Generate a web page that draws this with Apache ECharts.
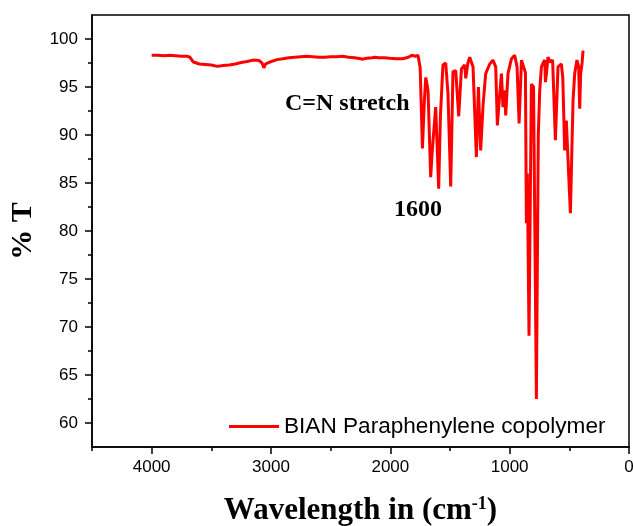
<!DOCTYPE html>
<html><head><meta charset="utf-8">
<script src="https://cdn.jsdelivr.net/npm/echarts@6/dist/echarts.min.js"></script>
<style>html,body{margin:0;padding:0;background:#fff}#c{width:633px;height:526px}</style>
</head><body><div id="c"></div>
<script>
const seriesName = 'BIAN Paraphenylene copolymer';
const wavenumbers = [4000,3950,3900,3850,3800,3750,3700,3680,3650,3600,3550,3500,3450,3400,3350,3300,3250,3200,3150,3100,3075,3060,3045,3010,2950,2900,2850,2800,2750,2700,2650,2600,2550,2500,2450,2400,2350,2300,2250,2230,2200,2150,2130,2100,2050,2005,1950,1900,1880,1850,1820,1810,1790,1768,1750,1731,1715,1703,1684,1662,1648,1637,1620,1608,1595,1580,1559,1536,1517,1494,1475,1452,1427,1404,1377,1368,1350,1335,1307,1279,1262,1243,1223,1201,1167,1140,1117,1103,1083,1069,1056,1042,1033,1014,985,958,938,921,901,888,868,860,852,838,818,800,776,760,748,734,720,706,700,692,679,660,640,617,595,580,567,555,539,525,511,491,469,455,436,422,413,405,394,385];
const transmittance = [98.3,98.3,98.25,98.3,98.25,98.2,98.2,98.1,97.6,97.4,97.35,97.3,97.15,97.25,97.3,97.4,97.55,97.65,97.8,97.75,97.5,97.0,97.4,97.6,97.85,97.95,98.05,98.1,98.15,98.2,98.15,98.1,98.1,98.15,98.15,98.2,98.1,98.05,97.95,97.9,98.0,98.05,98.1,98.05,98.05,98.0,97.95,97.95,98.0,98.1,98.3,98.35,98.2,98.3,97.0,88.6,93.5,96.0,94.6,85.6,88.5,90.2,92.9,89.0,84.4,92.0,97.3,97.5,94.3,84.65,96.6,96.7,91.95,96.9,97.3,95.9,97.5,98.1,97.1,87.7,95.0,88.4,93.1,96.4,97.4,97.8,97.1,91.0,94.3,96.4,92.9,94.65,92.05,96.4,97.95,98.3,97.1,91.2,97.8,97.95,96.5,80.8,86.0,69.1,95.3,95.0,62.5,90.0,94.65,97.1,97.5,97.8,95.5,96.4,98.1,97.6,97.8,89.45,97.1,97.0,97.4,96.0,88.4,91.5,87.4,81.85,93.6,96.4,97.8,97.1,92.75,96.4,97.4,98.8];
const xTickValues = [0,1000,2000,3000,4000];
const xMinorTickValues = [500,1500,2500,3500,4500];
const yTickValues = [60,65,70,75,80,85,90,95,100];
const yMinorTickValues = [62.5,67.5,72.5,77.5,82.5,87.5,92.5,97.5];
const xTitle = 'Wavelength in (cm';
const xTitleSup = '-1';
const yTitle = '% T';
const noteStretch = 'C=N stretch';
const notePeak = '1600';

const sans = '"Liberation Sans", Arial, sans-serif';
const serif = '"Liberation Serif", "Times New Roman", serif';
const X_MIN = 0, X_MAX = 4500, Y_MIN = 57.5, Y_MAX = 102.5;

const data = wavenumbers.map((w, i) => [w, transmittance[i]]);

const baseX = {type:'value', min:X_MIN, max:X_MAX, inverse:true, position:'bottom', splitLine:{show:false}};
const baseY = {type:'value', min:Y_MIN, max:Y_MAX, position:'left', splitLine:{show:false}};
const plain = v => String(v);

const chart = echarts.init(document.getElementById('c'), null, {renderer:'canvas'});
chart.setOption({
  animation:false,
  backgroundColor:'#fff',
  grid:{left:92, right:4, top:15, bottom:79, show:true, borderColor:'#000', borderWidth:1.5, backgroundColor:'transparent', containLabel:false, outerBoundsMode:'none'},
  legend:{
    data:[seriesName], left:224, top:410, icon:'rect', itemWidth:50, itemHeight:3,
    textStyle:{fontFamily:sans, fontSize:22.6, color:'#000'}
  },
  xAxis:[
    Object.assign({}, baseX, {
      axisLine:{show:true, onZero:false, lineStyle:{color:'#000', width:1.5}},
      axisTick:{show:true, inside:false, length:7, customValues:xTickValues, lineStyle:{color:'#000', width:1.5}},
      axisLabel:{show:true, customValues:xTickValues, formatter:plain, margin:12, fontFamily:sans, fontSize:17, color:'#000'},
      name: '{a|' + xTitle + '}{s|' + xTitleSup + '}{a|)}',
      nameLocation:'middle', nameGap:48,
      nameTextStyle:{rich:{
        a:{fontFamily:serif, fontWeight:'bold', fontSize:31, color:'#000'},
        s:{fontFamily:serif, fontWeight:'bold', fontSize:18, color:'#000', verticalAlign:'top', padding:[0,0,12,0]}
      }}
    }),
    Object.assign({}, baseX, {
      axisLine:{show:false, onZero:false},
      axisTick:{show:true, inside:false, length:4, customValues:xMinorTickValues, lineStyle:{color:'#000', width:1.5}},
      axisLabel:{show:false}
    })
  ],
  yAxis:[
    Object.assign({}, baseY, {
      axisLine:{show:true, onZero:false, lineStyle:{color:'#000', width:1.5}},
      axisTick:{show:true, inside:false, length:7, customValues:yTickValues, lineStyle:{color:'#000', width:1.5}},
      axisLabel:{show:true, customValues:yTickValues, formatter:plain, margin:14, fontFamily:sans, fontSize:17, color:'#000'},
      name:yTitle, nameLocation:'middle', nameGap:46, nameRotate:90,
      nameTextStyle:{fontFamily:serif, fontWeight:'bold', fontSize:30, color:'#000'}
    }),
    Object.assign({}, baseY, {
      axisLine:{show:false, onZero:false},
      axisTick:{show:true, inside:false, length:4, customValues:yMinorTickValues, lineStyle:{color:'#000', width:1.5}},
      axisLabel:{show:false}
    })
  ],
  series:[{
    name:seriesName, type:'line', xAxisIndex:0, yAxisIndex:0, data:data,
    showSymbol:false, symbol:'none', smooth:false,
    lineStyle:{color:'#ff0000', width:3}, itemStyle:{color:'#ff0000'}
  }],
  graphic:[
    {type:'text', left:285, top:92, style:{text:noteStretch, fill:'#000', font:'bold 24px ' + serif}},
    {type:'text', left:394, top:198, style:{text:notePeak, fill:'#000', font:'bold 24px ' + serif}}
  ]
});
</script></body></html>
